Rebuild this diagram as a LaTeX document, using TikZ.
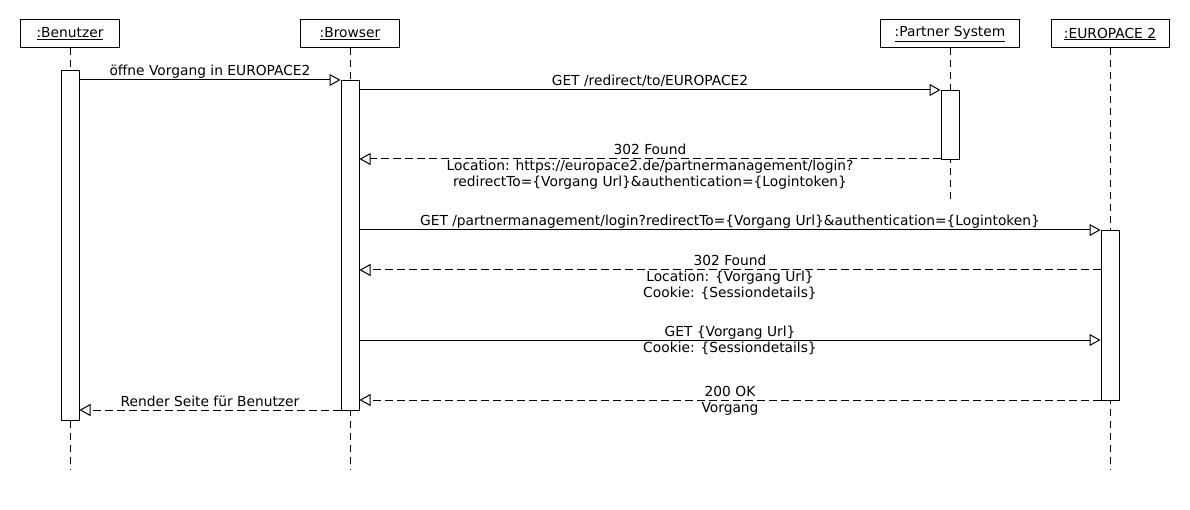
\documentclass[tikz,border=0pt]{standalone}
\usepackage{fontspec}
\setmainfont{DejaVu Sans}
\usetikzlibrary{arrows.meta,positioning,calc}

\begin{document}
\begin{tikzpicture}[x=1pt,y=-1pt,line width=1pt,
  every node/.style={font=\fontsize{13.8}{16}\selectfont},
  obj/.style={draw, minimum height=28pt, inner sep=0pt},
  life/.style={dash pattern=on 7pt off 5pt},
  act/.style={draw, fill=white, minimum width=18pt, inner sep=0pt, anchor=north},
  call/.style={-{Triangle[open,length=11pt,width=12pt]}},
  reply/.style={call, dash pattern=on 8pt off 4pt},
  lbl/.style={anchor=base, align=center, inner sep=0pt, yshift={4pt-(#1-1)*16pt}},
  lbl/.default=1]
\useasboundingbox (0,0) rectangle (1190,510);

\node (u) [obj, minimum width=99pt] at (70,34) {\underline{:Benutzer}};
\node (b) [obj, minimum width=99pt] at (350,34) {\underline{:Browser}};
\node (p) [obj, minimum width=139pt] at (950,34) {\underline{:Partner System}};
\node (e) [obj, minimum width=118pt] at (1110,34) {\underline{:EUROPACE 2}};

\coordinate (bottom) at (0,470);
\coordinate (pbottom) at (0,202);
\draw[life] (u.south) -- (u |- bottom);
\draw[life] (b.south) -- (b |- bottom);
\draw[life] (p.south) -- (p |- pbottom);
\draw[life] (e.south) -- (e |- bottom);

\node (ua) [act, minimum height=350pt] at (70,70) {};
\node (ba) [act, minimum height=330pt] at (350,80) {};
\node (pa) [act, minimum height=69pt] at (950,90) {};
\node (ea) [act, minimum height=170pt] at (1110,230) {};

\coordinate (m1) at (0,80);
\coordinate (m2) at (0,90);
\coordinate (m3) at (0,159);
\coordinate (m4) at (0,230);
\coordinate (m5) at (0,270);
\coordinate (m6) at (0,340);
\coordinate (m7) at (0,400);
\coordinate (m8) at (0,410);

\draw[call] (ua.east |- m1) -- node[lbl] {öffne Vorgang in EUROPACE2} (ba.west |- m1);
\draw[call] (ba.east |- m2) -- node[lbl] {GET /redirect/to/EUROPACE2} (pa.west |- m2);
\draw[reply] (pa.west |- m3) -- node[lbl=3] {302 Found\\Location: https://europace2.de/partnermanagement/login?\\redirectTo=\{Vorgang Url\}\&authentication=\{Logintoken\}} (ba.east |- m3);
\draw[call] (ba.east |- m4) -- node[lbl] {GET /partnermanagement/login?redirectTo=\{Vorgang Url\}\&authentication=\{Logintoken\}} (ea.west |- m4);
\draw[reply] (ea.west |- m5) -- node[lbl=3] {302 Found\\Location: \{Vorgang Url\}\\Cookie: \{Sessiondetails\}} (ba.east |- m5);
\draw[call] (ba.east |- m6) -- node[lbl=2] {GET \{Vorgang Url\}\\Cookie: \{Sessiondetails\}} (ea.west |- m6);
\draw[reply] (ea.west |- m7) -- node[lbl=2] {200 OK\\Vorgang} (ba.east |- m7);
\draw[reply] (ba.west |- m8) -- node[lbl] {Render Seite für Benutzer} (ua.east |- m8);

\end{tikzpicture}
\end{document}
